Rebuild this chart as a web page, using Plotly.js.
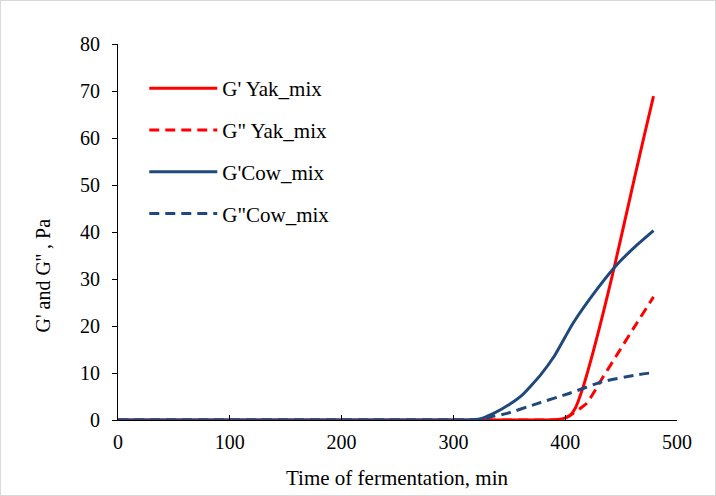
<!DOCTYPE html>
<html>
<head>
<meta charset="utf-8">
<script src="https://cdn.plot.ly/plotly-3.0.1.min.js"></script>
<style>
html,body{margin:0;padding:0;background:#fff;}
#wrap{position:relative;width:716px;height:496px;}
#chart{position:absolute;left:0;top:0;width:716px;height:496px;}
#frame{position:absolute;left:0;top:0;width:714px;height:494px;border:1px solid #d9d9d9;pointer-events:none;}
</style>
</head>
<body>
<div id="wrap"><div id="chart"></div><div id="frame"></div></div>
<script>
// Data
const yakGpX  = [0, 100, 200, 300, 380, 390, 398, 404, 409, 416, 425, 434, 443, 452, 462, 471, 479];
const yakGpY  = [0, 0, 0, 0, 0, 0.05, 0.3, 0.9, 2.5, 7.0, 14.5, 22.8, 31.6, 41, 51.5, 60.8, 68.9];
const yakGppX = [0, 100, 200, 300, 385, 394, 400, 407, 419, 434, 449, 464, 479];
const yakGppY = [0, 0, 0, 0, 0, 0.05, 0.4, 1.4, 3.5, 9.2, 14.9, 20.6, 26.2];
const cowGpX  = [0, 100, 200, 300, 310, 318, 326, 336, 350, 362, 378, 390, 407, 428, 446, 464, 479];
const cowGpY  = [0, 0, 0, 0, 0, 0.05, 0.4, 1.4, 3.3, 5.4, 9.6, 13.5, 20.6, 27.7, 33, 37.2, 40.3];
const cowGppX = [0, 100, 200, 300, 318, 326, 334, 348, 375, 404, 434, 464, 479];
const cowGppY = [0, 0, 0, 0, 0, 0.05, 0.7, 1.4, 3.5, 5.7, 8.2, 9.6, 10.1];
const names = ["G' Yak_mix", "G\" Yak_mix", "G'Cow_mix", "G\"Cow_mix"];
const xTicks = [0, 100, 200, 300, 400, 500];
const yTicks = [0, 10, 20, 30, 40, 50, 60, 70, 80];
const xTitle = 'Time of fermentation, min';
const yTitle = "G' and G'' , Pa";

const red = '#ff0000', blue = '#1f497d';
const font = 'Liberation Serif, Times New Roman, serif';
function tr(x, y, name, color, dash, g) {
  return {x: x, y: y, name: name, type: 'scatter', mode: 'lines', legendgroup: g,
    cliponaxis: false,
    line: {color: color, width: 3, dash: dash, shape: 'spline', smoothing: 0.5}};
}
const data = [
  tr(yakGpX, yakGpY, names[0], red, 'solid', 'a'),
  tr(yakGppX, yakGppY, names[1], red, '10px,6px', 'b'),
  tr(cowGpX, cowGpY, names[2], blue, 'solid', 'c'),
  tr(cowGppX, cowGppY, names[3], blue, '10px,6px', 'd')
];
const layout = {
  width: 716, height: 496,
  margin: {l: 118, r: 39, t: 44, b: 76},
  paper_bgcolor: '#fff', plot_bgcolor: '#fff',
  font: {family: font, size: 20, color: '#000'},
  showlegend: true,
  legend: {x: 0.047, y: 0.936, xanchor: 'left', yanchor: 'top', bgcolor: 'rgba(0,0,0,0)',
    font: {family: font, size: 21, color: '#000'}, traceorder: 'grouped', tracegroupgap: 11.5,
    itemwidth: 68},
  xaxis: {range: [0, 500], tickvals: xTicks, showgrid: false, zeroline: false,
    showline: true, linecolor: '#000', linewidth: 1, ticks: 'inside', ticklen: 5,
    tickcolor: '#000', tickfont: {family: font, size: 20}, ticklabelstandoff: 4},
  yaxis: {range: [0, 80], tickvals: yTicks, showgrid: false, zeroline: false,
    showline: true, linecolor: '#000', linewidth: 1, ticks: 'outside', ticklen: 5,
    tickcolor: '#000', tickfont: {family: font, size: 20}, ticklabelstandoff: 8},
  annotations: [
    {text: xTitle, xref: 'paper', yref: 'paper', x: 0.5, y: -0.154, xanchor: 'center',
     yanchor: 'middle', showarrow: false, font: {family: font, size: 21, color: '#000'}},
    {text: yTitle, xref: 'paper', yref: 'paper', x: -0.1333, y: 0.3856, xanchor: 'center',
     yanchor: 'middle', textangle: -90, showarrow: false, font: {family: font, size: 20, color: '#000'}}
  ]
};
Plotly.newPlot('chart', data, layout, {displayModeBar: false});
</script>
</body>
</html>
